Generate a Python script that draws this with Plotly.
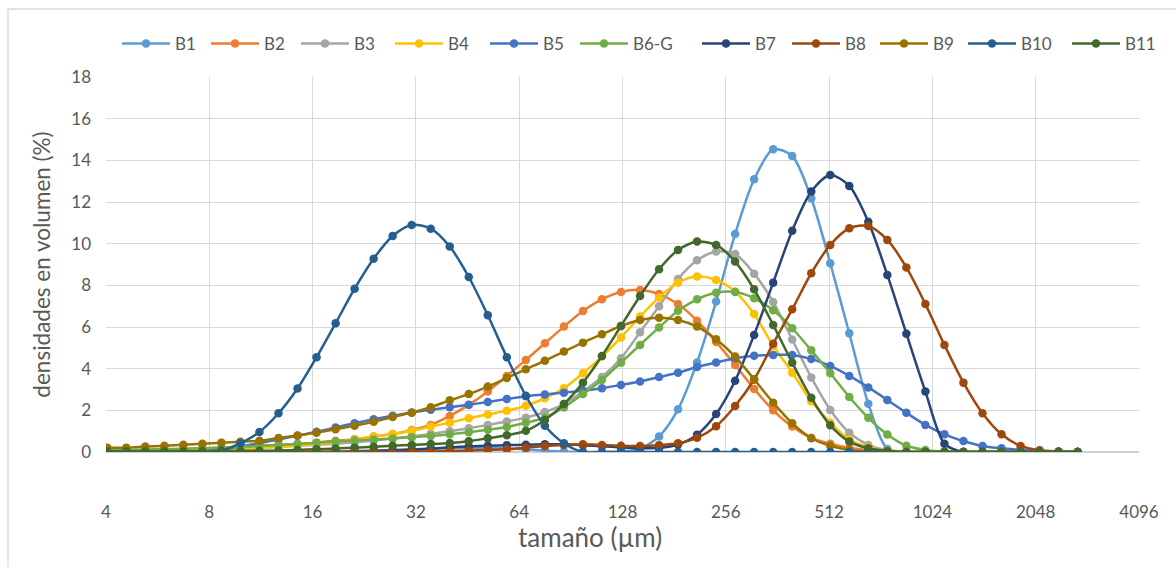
import plotly.graph_objects as go

# particle size classes (µm)
sizes = [4.034, 4.583, 5.207, 5.916, 6.722, 7.637, 8.677, 9.859, 11.20, 12.73,
         14.46, 16.43, 18.67, 21.21, 24.10, 27.38, 31.11, 35.35, 40.16, 45.63,
         51.84, 58.90, 66.92, 76.03, 86.39, 98.15, 111.5, 126.7, 144.0, 163.6,
         185.8, 211.1, 239.9, 272.5, 309.6, 351.8, 399.7, 454.2, 516.0, 586.3,
         666.1, 756.8, 859.9, 977.0, 1110, 1261, 1433, 1628, 1850, 2102, 2388, 2713]

B1 = [0, 0, 0, 0, 0, 0, 0, 0, 0, 0, 0, 0, 0.02, 0.04, 0.07, 0.10, 0.13, 0.16, 0.18, 0.20,
      0.20, 0.18, 0.13, 0.07, 0.02, 0, 0, 0.03, 0.15, 0.75, 2.05, 4.30, 7.22, 10.46, 13.09, 14.53,
      14.21, 12.18, 9.06, 5.70, 2.32, 0.15, 0, 0, 0, 0, 0, 0, 0, 0, 0, 0]
B2 = [0.05, 0.07, 0.09, 0.11, 0.14, 0.17, 0.21, 0.25, 0.30, 0.34, 0.39, 0.45, 0.54, 0.61, 0.74, 0.86,
      1.06, 1.30, 1.73, 2.26, 2.90, 3.65, 4.42, 5.22, 6.02, 6.77, 7.33, 7.68, 7.78, 7.58, 7.10, 6.30,
      5.28, 4.18, 3.03, 2.00, 1.22, 0.68, 0.40, 0.20, 0.08, 0.02, 0, 0, 0, 0, 0, 0, 0, 0, 0, 0]
B3 = [0.05, 0.05, 0.06, 0.07, 0.08, 0.10, 0.12, 0.15, 0.20, 0.25, 0.30, 0.35, 0.40, 0.47, 0.55, 0.65,
      0.75, 0.87, 1.00, 1.14, 1.30, 1.46, 1.65, 1.92, 2.30, 2.90, 3.60, 4.50, 5.75, 7.00, 8.30, 9.20,
      9.62, 9.50, 8.56, 7.20, 5.40, 3.58, 2.02, 0.93, 0.34, 0.08, 0.02, 0, 0, 0, 0, 0, 0, 0, 0, 0]
B4 = [0.02, 0.03, 0.04, 0.05, 0.07, 0.09, 0.12, 0.16, 0.20, 0.25, 0.31, 0.38, 0.47, 0.60, 0.74, 0.86,
      1.02, 1.22, 1.41, 1.62, 1.80, 1.98, 2.22, 2.58, 3.06, 3.78, 4.58, 5.50, 6.50, 7.42, 8.13, 8.42,
      8.26, 7.70, 6.62, 5.10, 3.81, 2.44, 1.41, 0.60, 0.24, 0.06, 0.01, 0, 0, 0, 0, 0, 0, 0, 0, 0]
B5 = [0, 0, 0, 0, 0.01, 0.05, 0.13, 0.26, 0.42, 0.60, 0.78, 0.97, 1.18, 1.38, 1.57, 1.74,
      1.90, 2.03, 2.15, 2.27, 2.40, 2.55, 2.68, 2.76, 2.85, 2.94, 3.06, 3.22, 3.38, 3.60, 3.80, 4.08,
      4.30, 4.50, 4.62, 4.66, 4.66, 4.47, 4.13, 3.65, 3.10, 2.50, 1.88, 1.30, 0.85, 0.53, 0.29, 0.18,
      0.10, 0.06, 0.03, 0]
B6G = [0.10, 0.10, 0.12, 0.14, 0.16, 0.18, 0.21, 0.25, 0.29, 0.34, 0.38, 0.45, 0.50, 0.55, 0.60, 0.65,
       0.71, 0.77, 0.85, 0.95, 1.07, 1.20, 1.40, 1.65, 2.14, 2.78, 3.46, 4.29, 5.14, 5.98, 6.78, 7.33,
       7.64, 7.68, 7.38, 6.80, 5.94, 4.88, 3.78, 2.64, 1.64, 0.84, 0.30, 0.10, 0.02, 0, 0, 0, 0, 0, 0, 0]
B7 = [0, 0, 0, 0, 0, 0, 0, 0, 0, 0, 0, 0, 0, 0.02, 0.04, 0.07, 0.11, 0.16, 0.22, 0.27,
      0.30, 0.33, 0.35, 0.37, 0.37, 0.33, 0.28, 0.22, 0.18, 0.20, 0.36, 0.83, 1.82, 3.42, 5.62, 8.13,
      10.62, 12.50, 13.30, 12.77, 11.05, 8.50, 5.68, 2.90, 0.40, 0, 0, 0, 0, 0, 0, 0]
B8 = [0, 0, 0, 0, 0, 0, 0, 0, 0, 0, 0, 0, 0, 0, 0, 0, 0.02, 0.03, 0.05, 0.07,
      0.10, 0.13, 0.21, 0.29, 0.34, 0.37, 0.34, 0.30, 0.29, 0.33, 0.42, 0.68, 1.24, 2.21, 3.48, 5.20,
      6.85, 8.58, 9.94, 10.74, 10.85, 10.18, 8.86, 7.10, 5.14, 3.33, 1.86, 0.85, 0.29, 0.08, 0.01, 0]
B9 = [0.21, 0.21, 0.26, 0.30, 0.35, 0.40, 0.45, 0.49, 0.54, 0.67, 0.79, 0.93, 1.09, 1.26, 1.45, 1.68,
      1.89, 2.15, 2.48, 2.78, 3.14, 3.55, 3.97, 4.38, 4.82, 5.25, 5.65, 6.05, 6.34, 6.45, 6.34, 6.02,
      5.41, 4.58, 3.49, 2.37, 1.38, 0.66, 0.30, 0.10, 0.02, 0, 0, 0, 0, 0, 0, 0, 0, 0, 0, 0]
B10 = [0, 0, 0, 0, 0, 0, 0.07, 0.42, 0.96, 1.86, 3.05, 4.55, 6.18, 7.84, 9.28, 10.37,
       10.90, 10.72, 9.86, 8.40, 6.56, 4.55, 2.70, 1.26, 0.42, 0, 0, 0, 0, 0, 0, 0,
       0, 0, 0, 0, 0, 0, 0, 0, 0, 0, 0, 0, 0, 0, 0, 0, 0, 0, 0, 0]
B11 = [0.02, 0.02, 0.02, 0.03, 0.03, 0.04, 0.04, 0.05, 0.06, 0.07, 0.10, 0.13, 0.17, 0.21, 0.25, 0.30,
       0.34, 0.38, 0.43, 0.52, 0.66, 0.80, 1.02, 1.54, 2.30, 3.33, 4.61, 6.05, 7.49, 8.77, 9.70, 10.10,
       9.94, 9.14, 7.81, 6.10, 4.29, 2.60, 1.28, 0.50, 0.18, 0.05, 0, 0, 0, 0, 0, 0, 0, 0, 0, 0]

names = ["B1", "B2", "B3", "B4", "B5", "B6-G", "B7", "B8", "B9", "B10", "B11"]
series = [B1, B2, B3, B4, B5, B6G, B7, B8, B9, B10, B11]
colors = ["#5B9BD5", "#ED7D31", "#A5A5A5", "#FFC000", "#4472C4", "#70AD47",
          "#264478", "#9E480E", "#997300", "#255E91", "#43682B"]
# legend entry text widths (px) to reproduce the original legend spacing
legend_widths = [26, 27, 31, 32, 27, 59, 27, 25, 25, 41, 36]

x_ticks = [4, 8, 16, 32, 64, 128, 256, 512, 1024, 2048, 4096]
y_ticks = [0, 2, 4, 6, 8, 10, 12, 14, 16, 18]

FONT = "Lato, 'Open Sans', sans-serif"
TXT = "#595959"

fig = go.Figure()
for name, ys, col, lw in zip(names, series, colors, legend_widths):
    fig.add_trace(go.Scatter(
        x=sizes, y=ys, name=name, mode="lines+markers",
        line=dict(color=col, width=2.5, shape="spline", smoothing=0.8),
        marker=dict(color=col, size=8.5, symbol="circle"),
        legendwidth=lw,
    ))

fig.update_layout(
    width=1176, height=567,
    margin=dict(l=106, r=37, t=77, b=115, autoexpand=False),
    paper_bgcolor="white", plot_bgcolor="white",
    font=dict(family=FONT, size=17, color=TXT),
    showlegend=True,
    legend=dict(orientation="h", xref="paper", yref="paper",
                x=(1166 - 106) / 1033, xanchor="right", y=1 + (77 - 44) / 375, yanchor="middle",
                font=dict(family=FONT, size=17, color=TXT), itemwidth=48,
                bgcolor="rgba(0,0,0,0)", borderwidth=0),
    xaxis=dict(type="log", range=[0.60206, 3.61236],
               tickvals=x_ticks, ticktext=[str(v) for v in x_ticks],
               showgrid=True, gridcolor="#D9D9D9", gridwidth=1.3,
               zeroline=False, showline=False, ticks="",
               ticklabelstandoff=48,
               tickfont=dict(family=FONT, size=17, color=TXT)),
    yaxis=dict(range=[0, 18], tickvals=y_ticks,
               showgrid=True, gridcolor="#D9D9D9", gridwidth=1.3,
               zeroline=False, showline=False, ticks="",
               ticklabelstandoff=14,
               tickfont=dict(family=FONT, size=17, color=TXT),
               title=dict(text="densidades en volumen (%)",
                          font=dict(family=FONT, size=22.5, color=TXT), standoff=14)),
)

# x axis title placed as in the original (slightly left of centre)
fig.add_annotation(text="tamaño (µm)", xref="paper", yref="paper",
                   x=(590 - 106) / 1033, y=(452 - 537) / 375,
                   xanchor="center", yanchor="middle", showarrow=False,
                   font=dict(family=FONT, size=26, color=TXT))

# x axis line (bottom) and chart-area border
fig.add_shape(type="line", xref="paper", yref="paper", x0=0, x1=1, y0=0, y1=0,
              line=dict(color="#BFBFBF", width=1.5), layer="below")
fig.add_shape(type="rect", xref="paper", yref="paper",
              x0=(8 - 106) / 1033, x1=1.1, y0=-0.33, y1=1 + (77 - 9) / 375,
              line=dict(color="#D9D9D9", width=1.3), layer="below")

fig.write_html("out.html")
